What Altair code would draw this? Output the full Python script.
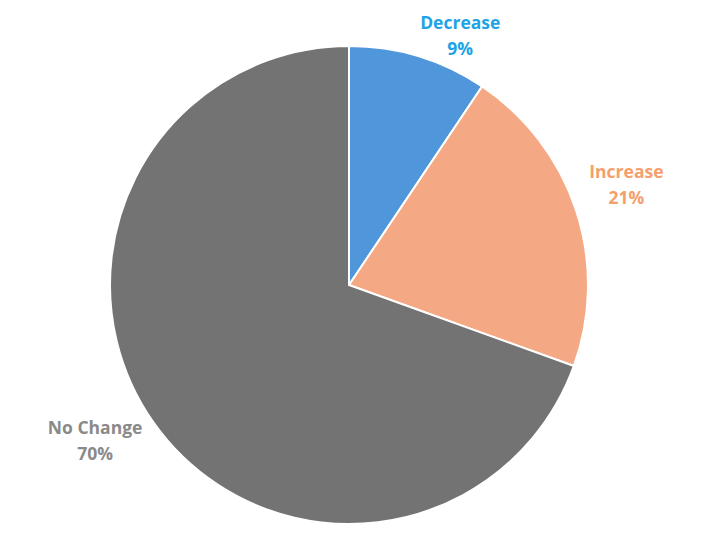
import altair as alt
import pandas as pd

categories = ["Decrease", "Increase", "No Change"]
values = [9.4, 21.1, 69.5]
pct_labels = ["9%", "21%", "70%"]
slice_colors = ["#4f96db", "#f4a984", "#737373"]
label_colors = ["#1ea4e6", "#f5a06c", "#8a8a8a"]

df = pd.DataFrame({
    "category": categories,
    "value": values,
    "order": [0, 1, 2],
})
df["label"] = [f"{c}\n{p}" for c, p in zip(categories, pct_labels)]

CX, CY = 341, 277
R = 239

base = alt.Chart(df).encode(
    theta=alt.Theta("value:Q", stack=True),
    order=alt.Order("order:Q"),
)

pie = base.mark_arc(stroke="white", strokeWidth=2).encode(
    color=alt.Color("category:N", scale=alt.Scale(domain=categories, range=slice_colors), legend=None),
    radius=alt.value(R),
    x=alt.value(CX),
    y=alt.value(CY),
)

label_cfg = {
    "Decrease": dict(radius=262, dx=35, dy=-10),
    "Increase": dict(radius=292, dx=0, dy=-21),
    "No Change": dict(radius=292, dx=-15, dy=-24),
}

layers = [pie]
for cat, col in zip(categories, label_colors):
    cfg = label_cfg[cat]
    t = base.mark_text(
        font="Open Sans", fontSize=17.5, fontWeight="bold", lineBreak="\n",
        lineHeight=26, align="center", baseline="middle", color=col,
        dx=cfg["dx"], dy=cfg["dy"],
    ).encode(
        text="label:N",
        radius=alt.value(cfg["radius"]),
        x=alt.value(CX),
        y=alt.value(CY),
        opacity=alt.condition(alt.datum.category == cat, alt.value(1), alt.value(0)),
    )
    layers.append(t)

chart = alt.layer(*layers).properties(
    width=694, height=532, autosize=alt.AutoSizeParams(type="none"), padding=0
).configure_view(stroke=None)

chart.save("out.html", embed_options={"renderer": "svg", "actions": False})
